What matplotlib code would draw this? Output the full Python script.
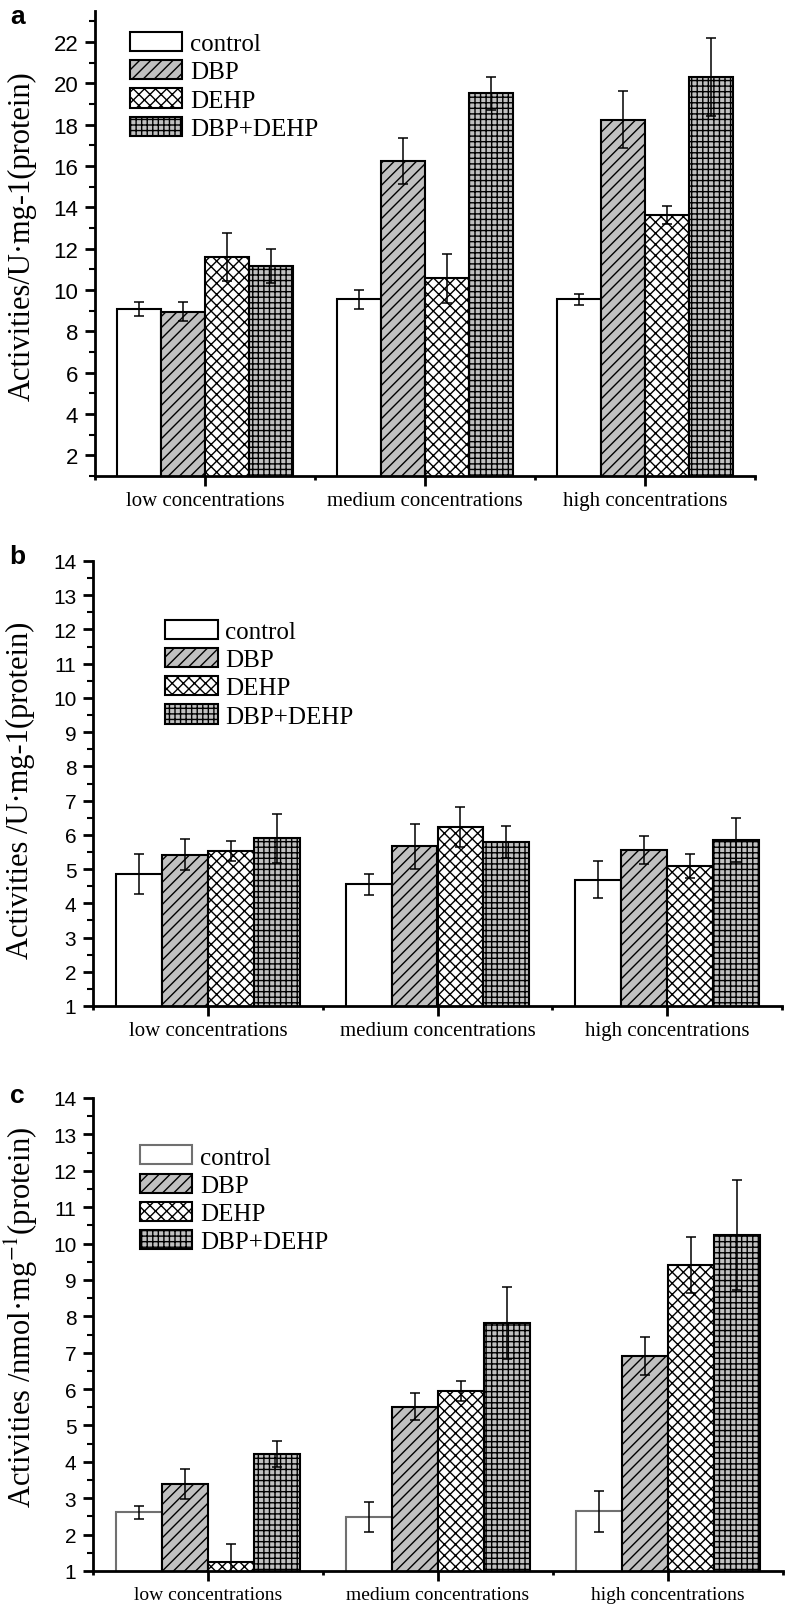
import numpy as np
import matplotlib
matplotlib.use('Agg')
import matplotlib.pyplot as plt
from matplotlib.ticker import MultipleLocator, FixedLocator

groups = ['low concentrations', 'medium concentrations', 'high concentrations']
series = ['control', 'DBP', 'DEHP', 'DBP+DEHP']

# panel a
a_control = [9.07, 9.55, 9.55]
a_dbp = [8.94, 16.24, 18.25]
a_dehp = [11.60, 10.56, 13.62]
a_mix = [11.17, 19.51, 20.30]
a_control_err = [0.33, 0.46, 0.28]
a_dbp_err = [0.46, 1.13, 1.37]
a_dehp_err = [1.15, 1.18, 0.44]
a_mix_err = [0.82, 0.82, 1.87]

# panel b
b_control = [4.86, 4.55, 4.69]
b_dbp = [5.42, 5.66, 5.56]
b_dehp = [5.54, 6.22, 5.08]
b_mix = [5.90, 5.78, 5.85]
b_control_err = [0.58, 0.31, 0.54]
b_dbp_err = [0.45, 0.67, 0.40]
b_dehp_err = [0.29, 0.58, 0.35]
b_mix_err = [0.71, 0.47, 0.64]

# panel c
c_control = [2.61, 2.48, 2.64]
c_dbp = [3.40, 5.52, 6.90]
c_dehp = [1.24, 5.95, 9.41]
c_mix = [4.21, 7.81, 10.24]
c_control_err = [0.18, 0.41, 0.56]
c_dbp_err = [0.41, 0.37, 0.52]
c_dehp_err = [0.50, 0.27, 0.76]
c_mix_err = [0.35, 0.99, 1.51]

plt.rcParams['font.family'] = ['Liberation Sans', 'DejaVu Sans']
plt.rcParams['mathtext.fontset'] = 'stix'
plt.rcParams['hatch.linewidth'] = 1.0

W, H = 786, 1606
fig = plt.figure(figsize=(W / 100, H / 100), dpi=100)

def box(l, r, t, b):
    return [l / W, 1 - b / H, (r - l) / W, (b - t) / H]

gray = '#c0c0c0'
fills = ['white', gray, 'white', gray]

def panel(rect, means, errs, ylim, ymajor, ylabel, ylabel_pos, leg_anchor,
          letter, letter_xy, hatches, ctrl_edge='black', xfs=15, yfs=15):
    ax = fig.add_axes(rect)
    x = np.arange(len(groups))
    w = 0.2
    handles = []
    for i, (m, e) in enumerate(zip(means, errs)):
        xs = x - 0.3 + i * w
        ec = ctrl_edge if i == 0 else 'black'
        bars = ax.bar(xs, m, w, color=fills[i], edgecolor=ec, linewidth=1.5,
                      hatch=hatches[i], label=series[i], zorder=2)
        handles.append(bars)
        ax.errorbar(xs, m, yerr=e, fmt='none', ecolor='black', elinewidth=1.1,
                    capsize=3.5, capthick=1.1, zorder=3)

    ax.set_xlim(-0.5, 2.5)
    ax.set_ylim(*ylim)
    ax.spines['top'].set_visible(False)
    ax.spines['right'].set_visible(False)
    ax.spines['left'].set_linewidth(2)
    ax.spines['bottom'].set_linewidth(2)

    ax.set_xticks(x)
    ax.set_xticklabels(groups, family='Liberation Serif', fontsize=xfs)
    ax.xaxis.set_minor_locator(FixedLocator([-0.5, 0.5, 1.5, 2.5]))
    ax.tick_params(axis='x', which='major', direction='out', length=7, width=2, pad=4)
    ax.tick_params(axis='x', which='minor', direction='out', length=3, width=2)

    ax.yaxis.set_major_locator(MultipleLocator(ymajor))
    ax.yaxis.set_minor_locator(MultipleLocator(ymajor / 2))
    ax.tick_params(axis='y', which='major', direction='out', length=7, width=2,
                   labelsize=yfs, pad=5)
    ax.tick_params(axis='y', which='minor', direction='out', length=4, width=1.5)

    ax.set_ylabel(ylabel, family='Liberation Serif', fontsize=22)
    ax.yaxis.set_label_coords(*ylabel_pos)
    ax.yaxis.label.set_va('center')

    ax.legend(handles=handles, loc='upper left', bbox_to_anchor=leg_anchor,
              frameon=False, prop={'family': 'Liberation Serif', 'size': 18},
              handlelength=2.1, handleheight=0.8, handletextpad=0.3,
              labelspacing=0.2, borderpad=0, borderaxespad=0)

    fig.text(letter_xy[0] / W, 1 - letter_xy[1] / H, letter, fontsize=19,
             fontweight='bold', ha='center', va='center')
    return ax

panel(box(95, 755, 12, 477),
      [a_control, a_dbp, a_dehp, a_mix],
      [a_control_err, a_dbp_err, a_dehp_err, a_mix_err],
      (1, 23.5), 2, 'Activities/U·mg-1(protein)', (-0.111, 0.518),
      (0.053, 0.955), 'a', (18, 17), ['', '///', 'xxx', '+++'], yfs=16)

panel(box(93, 782, 562, 1007),
      [b_control, b_dbp, b_dehp, b_mix],
      [b_control_err, b_dbp_err, b_dehp_err, b_mix_err],
      (1, 14), 1, 'Activities /U·mg-1(protein)', (-0.106, 0.488),
      (0.105, 0.868), 'b', (17, 557), ['', '///', 'xxx', '+++'])

panel(box(93, 783, 1099, 1572),
      [c_control, c_dbp, c_dehp, c_mix],
      [c_control_err, c_dbp_err, c_dehp_err, c_mix_err],
      (1, 14), 1, 'Activities /nmol·mg$^{-1}$(protein)', (-0.103, 0.539),
      (0.068, 0.9), 'c', (17, 1096), ['', '///', 'xxx', '+++'],
      ctrl_edge='#707070', xfs=14)

fig.savefig('out.png', dpi=100)
